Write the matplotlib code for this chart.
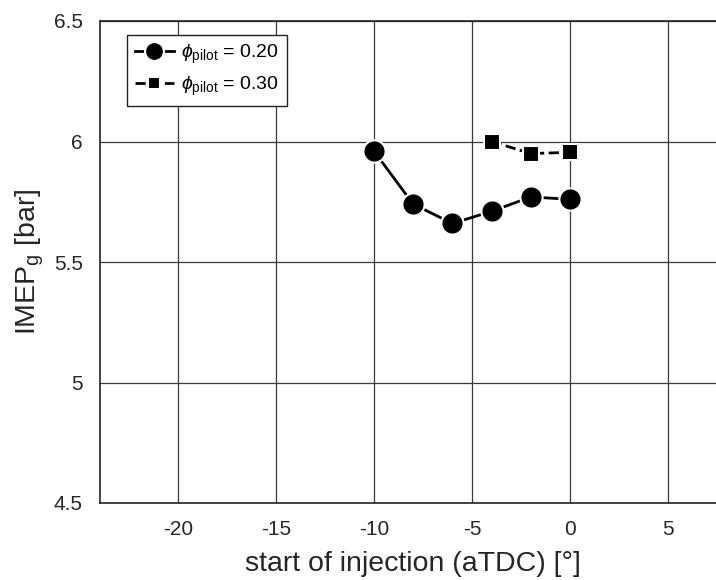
import matplotlib

matplotlib.use("Agg")
import matplotlib.pyplot as plt

plt.rcParams["font.family"] = ["Liberation Sans", "DejaVu Sans"]
plt.rcParams["mathtext.fontset"] = "custom"
plt.rcParams["mathtext.rm"] = "Liberation Sans"
plt.rcParams["mathtext.it"] = "Liberation Sans:italic"
plt.rcParams["axes.unicode_minus"] = False

# start of injection [deg aTDC] and gross IMEP [bar]
soi_020 = [-10, -8, -6, -4, -2, 0]
imep_020 = [5.96, 5.74, 5.66, 5.71, 5.77, 5.76]
soi_030 = [-4, -2, 0]
imep_030 = [6.00, 5.95, 5.955]

xticks = [-20, -15, -10, -5, 0, 5]
yticks = [4.5, 5, 5.5, 6, 6.5]
yticklabels = ["4.5", "5", "5.5", "6", "6.5"]

fig = plt.figure(figsize=(7.16, 5.80), dpi=100)
# axes runs a bit past the right edge, as in the reference crop
ax = fig.add_axes([99.6 / 716, 77 / 580, 627.2 / 716, 482 / 580])

ax.plot(soi_020, imep_020, "-", color="black", lw=2, marker="o", ms=16,
        mfc="black", mec="white", mew=1.5, label=r"$\phi_{\rm pilot}$ = 0.20", zorder=3)
ax.plot(soi_030, imep_030, "--", color="black", lw=2, marker="s", ms=11,
        mfc="black", mec="white", mew=1.5, label=r"$\phi_{\rm pilot}$ = 0.30", zorder=3)

ax.set_xlim(-24, 8)
ax.set_ylim(4.5, 6.5)
ax.set_xticks(xticks)
ax.set_yticks(yticks)
ax.set_yticklabels(yticklabels)
ax.grid(True, color="#3a3a3a", lw=0.9)
ax.set_axisbelow(True)
ax.tick_params(direction="in", labelsize=15, length=0, pad=12, labelcolor="#262626")
for s in ax.spines.values():
    s.set_color("#222222")
    s.set_linewidth(1.2)

ax.set_xlabel("start of injection (aTDC) [°]", fontsize=20.5, color="#262626", labelpad=9)
ax.set_ylabel(r"IMEP$_{\rm g}$ [bar]", fontsize=20.5, color="#262626", labelpad=6)

leg = ax.legend(loc="upper left", bbox_to_anchor=(27.4 / 627.2, 1 - 14 / 482), fontsize=14,
                fancybox=False, edgecolor="#222222", framealpha=1, borderaxespad=0,
                handlelength=2.0, handletextpad=0.4, borderpad=0.4, labelspacing=0.45)
leg.get_frame().set_linewidth(1.0)
for h in leg.legend_handles:
    h.set_markersize(h.get_markersize() * 0.85)

fig.savefig("out.png", dpi=100)
